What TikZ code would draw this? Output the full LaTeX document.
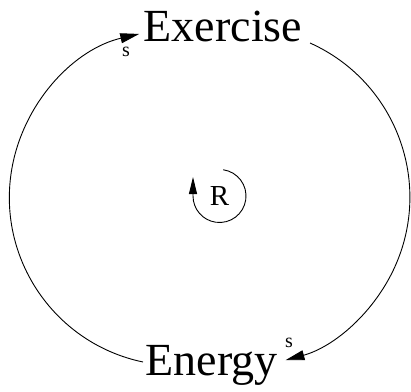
\documentclass[tikz,border=0pt]{standalone}
\usepackage{fontspec}
\setmainfont{Liberation Serif}
\usetikzlibrary{arrows.meta}
\begin{document}
\begin{tikzpicture}[x=1pt,y=1pt,
  varname/.style={inner sep=0pt,font=\fontsize{46}{46}\selectfont,anchor=base},
  pol/.style={inner sep=0pt,font=\fontsize{20}{20}\selectfont},
  link/.style={line width=0.9pt,-{Triangle[length=19pt,width=10pt]}},
  loopname/.style={inner sep=0pt,font=\fontsize{29}{29}\selectfont}]
\useasboundingbox (0,0) rectangle (411,391);
\node[varname] (ex) at (223,349) {Exercise};
\node[varname] (en) at (211.5,16) {Energy};
\node[pol] (s1) at (126,339) {s};
\node[pol] (s2) at (289,48) {s};
\node[loopname] (R) at (219.5,195) {R};
% left link: Energy -> Exercise
\coordinate (enOut) at ([shift={(-35,-167)}]178,196);
\draw[link] (enOut) arc[start angle=-101.8, end angle=-256.9, radius=168];
% right link: Exercise -> Energy
\coordinate (exOut) at ([shift={(69.4,154.8)}]240.6,193.2);
\draw[link] (exOut) arc[start angle=65.85, end angle=-74.7, radius=169];
% loop marker
\coordinate (rStart) at ([shift={(82:26.5)}]219.5,195);
\draw[line width=0.9pt,-{Triangle[length=17pt,width=8pt]}] (rStart) arc[start angle=82, end angle=-180, radius=26.5] -- ++(0,19);
\end{tikzpicture}
\end{document}
